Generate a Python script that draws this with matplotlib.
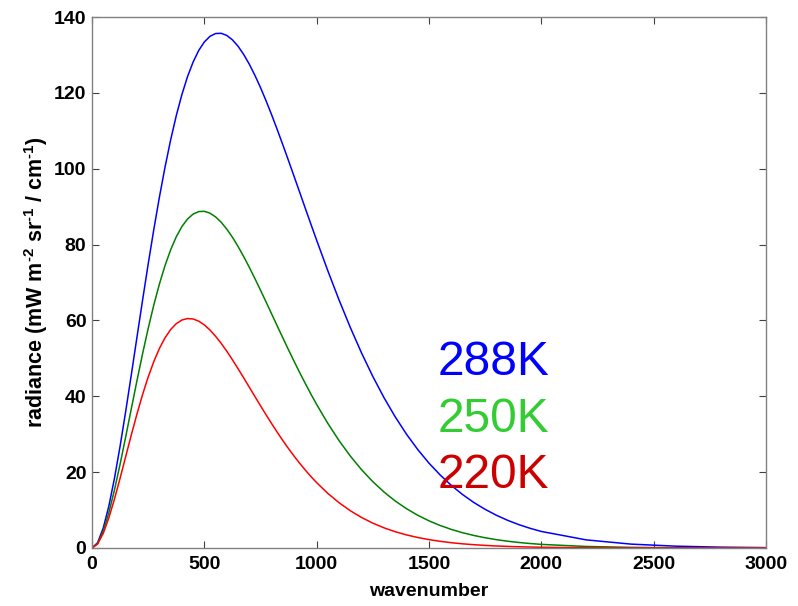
import matplotlib.pyplot as plt
import numpy as np

# wavenumber (cm^-1) and radiance
wn = [0, 25, 50, 75, 100, 125, 150, 175, 200, 225, 250, 275, 300, 325, 350,
      375, 400, 425, 450, 475, 500, 525, 550, 575, 600, 625, 650, 675, 700,
      725, 750, 775, 800, 825, 850, 875, 900, 925, 950, 975, 1000,
      1050, 1100, 1150, 1200, 1250, 1300, 1350, 1400, 1450, 1500, 1550, 1600,
      1650, 1700, 1750, 1800, 1850, 1900, 1950, 2000,
      2200, 2400, 2600, 2800, 3000]

rad288 = [0, 1.40, 5.25, 11.05, 18.38, 26.82, 36.03, 45.68, 55.52, 65.30,
          74.83, 83.94, 92.50, 100.41, 107.58, 113.97, 119.53, 124.25, 128.12,
          131.18, 133.42, 134.90, 135.64, 135.70, 135.14, 133.98, 132.30,
          130.14, 127.58, 124.63, 121.40, 117.87, 114.15, 110.24, 106.20,
          102.08, 97.90, 93.68, 89.46, 85.27, 81.13,
          73.04, 65.34, 58.11, 51.39, 45.22, 39.60, 34.54, 29.99, 25.95, 22.37,
          19.23, 16.47, 14.07, 11.98, 10.19, 8.63, 7.30, 6.16, 5.19, 4.36,
          2.14, 1.02, 0.478, 0.220, 0.0995]
rad250 = [0, 1.20, 4.47, 9.31, 15.31, 22.09, 29.32, 36.73, 44.08, 51.18,
          57.87, 64.04, 69.58, 74.46, 78.61, 82.04, 84.74, 86.73, 88.04, 88.70,
          88.77, 88.28, 87.30, 85.88, 84.07, 81.93, 79.52, 76.86, 74.03, 71.05,
          67.98, 64.83, 61.66, 58.48, 55.33, 52.21, 49.16, 46.18, 43.31, 40.51,
          37.83,
          32.82, 28.28, 24.22, 20.63, 17.48, 14.75, 12.38, 10.36, 8.63, 7.16,
          5.93, 4.89, 4.02, 3.30, 2.70, 2.20, 1.79, 1.455, 1.18, 0.955,
          0.402, 0.165, 0.066, 0.026, 0.010]
rad220 = [0, 1.05, 3.85, 7.94, 12.90, 18.39, 24.11, 29.82, 35.30, 40.43,
          45.07, 49.14, 52.60, 55.42, 57.60, 59.15, 60.10, 60.50, 60.38, 59.81,
          58.82, 57.48, 55.83, 53.95, 51.87, 49.63, 47.28, 44.87, 42.41, 39.95,
          37.51, 35.10, 32.75, 30.48, 28.28, 26.19, 24.18, 22.29, 20.50, 18.81,
          17.23,
          14.38, 11.92, 9.82, 8.04, 6.55, 5.31, 4.29, 3.45, 2.77, 2.21,
          1.76, 1.39, 1.10, 0.868, 0.683, 0.536, 0.420, 0.328, 0.256, 0.199,
          0.072, 0.025, 0.0086, 0.0029, 0.001]

labels = ['288K', '250K', '220K']
label_y = [45.6, 30.6, 15.8]

plt.rcParams['font.family'] = ['Liberation Sans', 'DejaVu Sans']
plt.rcParams['mathtext.fontset'] = 'custom'
plt.rcParams['mathtext.rm'] = 'Liberation Sans:bold'
plt.rcParams['mathtext.bf'] = 'Liberation Sans:bold'

fig = plt.figure(figsize=(7.98, 6.06), dpi=100)
ax = fig.add_axes([92/798, 58/606, 674/798, 531/606])

ax.plot(wn, rad288, color='#0000ff', linewidth=1.1)
ax.plot(wn, rad250, color='#007f00', linewidth=1.1)
ax.plot(wn, rad220, color='#ff0000', linewidth=1.1)

text_colors = ['#0000ff', '#33cc33', '#cc0000']
for lab, yy, c in zip(labels, label_y, text_colors):
    ax.text(1540, yy, lab, color=c, fontsize=34.5, ha='left', va='baseline')

ax.set_xlim(0, 3000)
ax.set_ylim(0, 140)
ax.set_xticks(np.arange(0, 3001, 500))
ax.set_yticks(np.arange(0, 141, 20))
ax.tick_params(direction='in', length=5, width=0.8, color='#404040',
               labelsize=14, top=True, right=True)
ax.tick_params(axis='x', pad=6)
ax.tick_params(axis='y', pad=4)
for lbl in ax.get_xticklabels() + ax.get_yticklabels():
    lbl.set_fontweight('bold')
for sp in ax.spines.values():
    sp.set_color('#808080')
    sp.set_linewidth(1)

ax.set_xlabel('wavenumber', fontsize=14, fontweight='bold', labelpad=7)
ax.set_ylabel(r'radiance (mW m$^{\text{-2}}$ sr$^{\text{-1}}$ / cm$^{\text{-1}}$)',
              fontsize=15.5, fontweight='bold', labelpad=3)

plt.savefig('out.png', dpi=100)
